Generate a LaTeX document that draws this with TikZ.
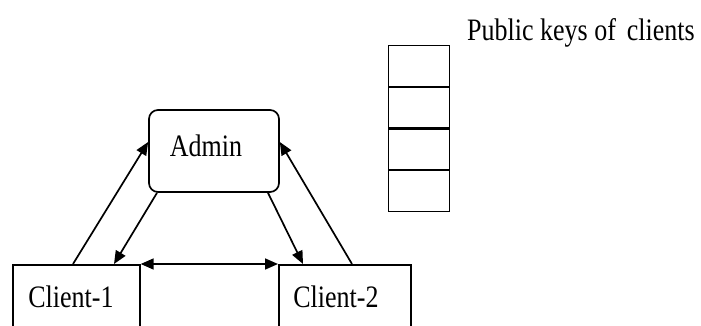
\documentclass[tikz,border=0pt]{standalone}
\usepackage{fontspec}
\setmainfont{Liberation Serif}
\usetikzlibrary{arrows.meta}
\tikzset{
  box/.style={draw, line width=1.7pt, inner sep=0pt},
  tip/.tip={Triangle[length=13pt,width=11pt]},
  conn/.style={line width=1.7pt, -tip},
  cell/.style={draw, line width=1.2pt, minimum width=61pt, minimum height=40.5pt, inner sep=0pt},
  lbl/.style={font=\fontsize{26}{26}\selectfont, inner sep=0pt}
}
\begin{document}
\begin{tikzpicture}[x=1pt,y=-1pt]
\useasboundingbox (0,0) rectangle (701,325);
\clip (0,0) rectangle (701,325);
% Admin
\node[box, rounded corners=9pt, minimum width=130pt, minimum height=82pt] (admin) at (214,151) {};
\node[lbl] (admintxt) at (206,146) {\scalebox{1}[1.2]{Admin}};
% Clients (boxes run off the bottom edge)
\node[box, minimum width=127pt, minimum height=120pt, anchor=north west] (c1) at (12,264) {};
\node[box, minimum width=132pt, minimum height=120pt, anchor=north west] (c2) at (278,264) {};
\node[lbl] (c1txt) at (71,297) {\scalebox{1}[1.2]{Client-1}};
\node[lbl] (c2txt) at (336,297) {\scalebox{1}[1.2]{Client-2}};
% key stack
\node[cell, anchor=north west] (k1) at (388,45) {};
\node[cell, anchor=north] (k2) at (k1.south) {};
\node[cell, anchor=north] (k3) at (k2.south) {};
\node[cell, anchor=north] (k4) at (k3.south) {};
\node[lbl, anchor=west] (keys) at (467,33) {\scalebox{1}[1.2]{Public keys of\, clients}};
% connectors
\coordinate (a1) at (73,264);
\coordinate (a2) at (114,264);
\coordinate (a3) at (303,264);
\coordinate (a4) at (352,264);
\draw[conn] (a1) -- (admin.west |- 0,142);
\draw[conn] (admin.south west -| 157,0) -- (a2);
\draw[conn] (admin.south east -| 268,0) -- (a3);
\draw[conn] (a4) -- (admin.east |- 0,142);
\draw[line width=1.7pt, tip-tip] (c1.north east) -- (c2.north west);
\end{tikzpicture}
\end{document}
